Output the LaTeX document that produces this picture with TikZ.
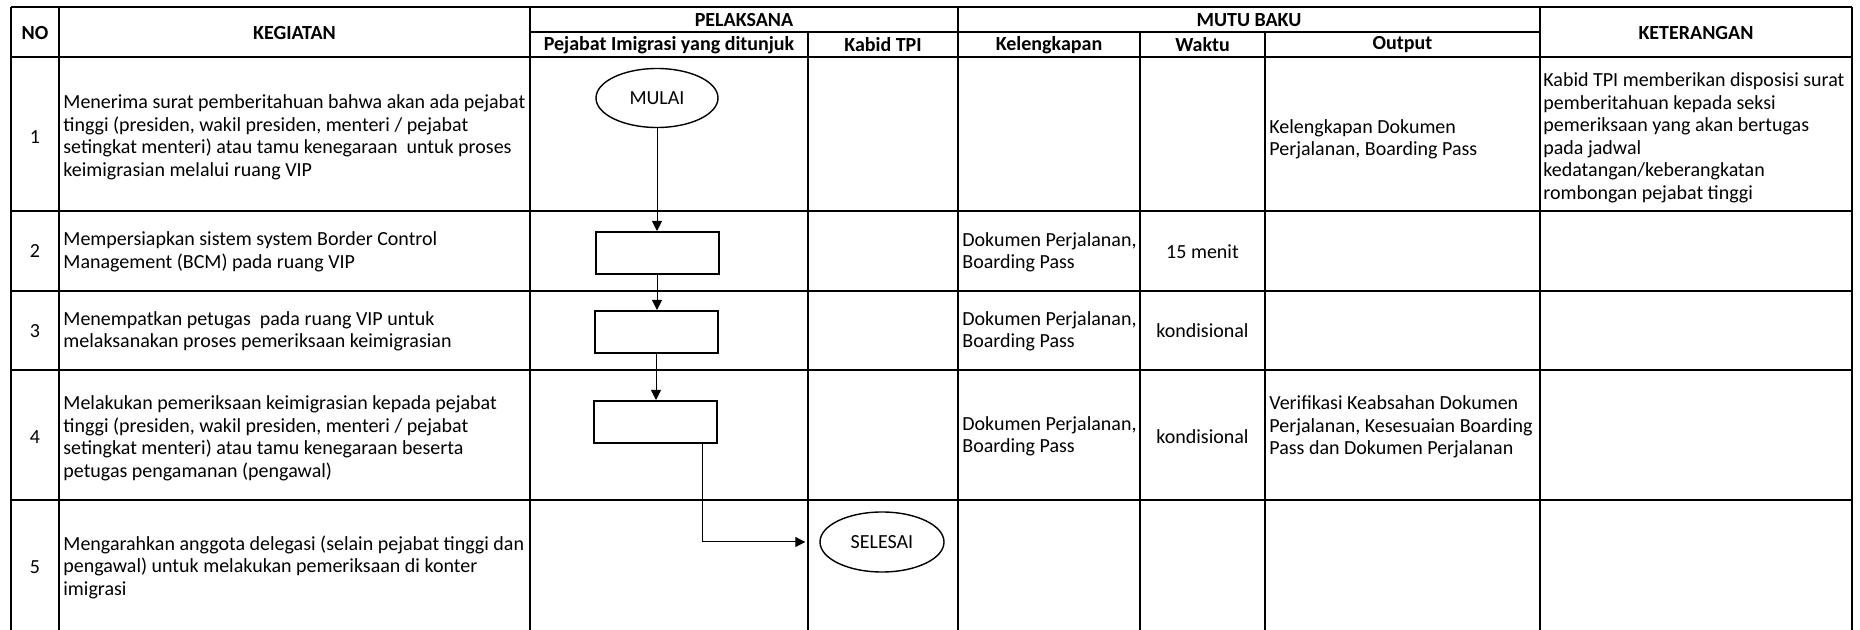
\documentclass[tikz,border=0pt]{standalone}
\usepackage{fontspec}
\setmainfont{Carlito}
\usetikzlibrary{shapes.geometric,arrows.meta}
\begin{document}
\begin{tikzpicture}[x=0.5pt,y=-0.5pt,
  grid/.style={line width=1pt},
  body/.style={font=\fontsize{10}{11.25}\selectfont, inner sep=0pt, align=left, anchor=west},
  ctext/.style={font=\fontsize{10}{11.25}\selectfont, inner sep=0pt, align=center},
  head/.style={font=\bfseries\fontsize{10}{11.25}\selectfont, inner sep=0pt, align=center},
  procbox/.style={draw, line width=1pt, minimum width=61.5pt, minimum height=21pt, inner sep=0pt},
  term/.style={draw, ellipse, line width=0.7pt, minimum width=61pt, minimum height=29.5pt, inner sep=0pt, font=\fontsize{10}{11.25}\selectfont},
  flow/.style={line width=0.5pt, -{Triangle[length=5pt,width=5pt]}}
]
\useasboundingbox (0,0) rectangle (1860,630);

% table grid
\draw[grid] (11,7) -- (1852,7);
\draw[grid] (530,32) -- (1540,32);
\foreach \y in {57,211,291,370,500} \draw[grid] (11,\y) -- (1852,\y);
\foreach \x in {11,59,530,958,1540,1852} \draw[grid] (\x,7) -- (\x,630);
\foreach \x in {808,1140,1265} \draw[grid] (\x,32) -- (\x,630);

% header
\node[head] (hno)  at (35,33)    {NO};
\node[head] (hkeg) at (294.5,33) {KEGIATAN};
\node[head] (hpel) at (744,20)   {PELAKSANA};
\node[head] (hmut) at (1249,20)  {MUTU BAKU};
\node[head] (hket) at (1696,33)  {KETERANGAN};
\node[head] (hpej) at (669,45)   {Pejabat Imigrasi yang ditunjuk};
\node[head] (hkab) at (883,45)   {Kabid TPI};
\node[head] (hkel) at (1049,45)  {Kelengkapan};
\node[head] (hwak) at (1202.5,45){Waktu};
\node[head] (hout) at (1402.5,45){Output};

% row numbers
\node[ctext] (n1) at (35,137) {1};
\node[ctext] (n2) at (35,251) {2};
\node[ctext] (n3) at (35,331) {3};
\node[ctext] (n4) at (35,437) {4};
\node[ctext] (n5) at (35,567) {5};

% activities
\node[body] (k1) at (63,137.5) {Menerima surat pemberitahuan bahwa akan ada pejabat\\tinggi (presiden, wakil presiden, menteri / pejabat\\setingkat menteri) atau tamu kenegaraan\ \ untuk proses\\keimigrasian melalui ruang VIP};
\node[body] (k2) at (63,252) {Mempersiapkan sistem system Border Control\\Management (BCM) pada ruang VIP};
\node[body] (k3) at (63,331.5) {Menempatkan petugas\ \ pada ruang VIP untuk\\melaksanakan proses pemeriksaan keimigrasian};
\node[body] (k4) at (63,438.5) {Melakukan pemeriksaan keimigrasian kepada pejabat\\tinggi (presiden, wakil presiden, menteri / pejabat\\setingkat menteri) atau tamu kenegaraan beserta\\petugas pengamanan (pengawal)};
\node[body] (k5) at (63,567) {Mengarahkan anggota delegasi (selain pejabat tinggi dan\\pengawal) untuk melakukan pemeriksaan di konter\\imigrasi};

% quality standards
\node[body] (kel2) at (962,252.5) {Dokumen Perjalanan,\\Boarding Pass};
\node[body] (kel3) at (962,331.5) {Dokumen Perjalanan,\\Boarding Pass};
\node[body] (kel4) at (962,436.5) {Dokumen Perjalanan,\\Boarding Pass};
\node[ctext] (w2) at (1202.5,252) {15 menit};
\node[ctext] (w3) at (1202.5,331) {kondisional};
\node[ctext] (w4) at (1202.5,437) {kondisional};
\node[body] (o1) at (1269,139.5) {Kelengkapan Dokumen\\Perjalanan, Boarding Pass};
\node[body] (o4) at (1269,427) {Verifikasi Keabsahan Dokumen\\Perjalanan, Kesesuaian Boarding\\Pass dan Dokumen Perjalanan};

% remarks
\node[body] (ket1) at (1543,138) {Kabid TPI memberikan disposisi surat\\pemberitahuan kepada seksi\\pemeriksaan yang akan bertugas\\pada jadwal\\kedatangan/keberangkatan\\rombongan pejabat tinggi};

% flowchart
\node[term] (mulai) at (657,98) {MULAI};
\node[procbox] (b2) at (657,253) {};
\node[procbox] (b3) at (656,332) {};
\node[procbox] (b4) at (655,422) {};
\node[term, minimum width=62pt, minimum height=30pt] (selesai) at (882,542) {SELESAI};
\coordinate (turn) at (702,542);

\draw[flow] (mulai.south) -- (b2.north -| mulai.south);
\draw[flow] (b2.south) -- (b3.north -| b2.south);
\draw[flow] (b3.south) -- (b4.north -| b3.south);
\draw[flow, shorten >=7pt] (b4.south -| turn) -- (turn) -- (selesai.west);
\end{tikzpicture}
\end{document}
